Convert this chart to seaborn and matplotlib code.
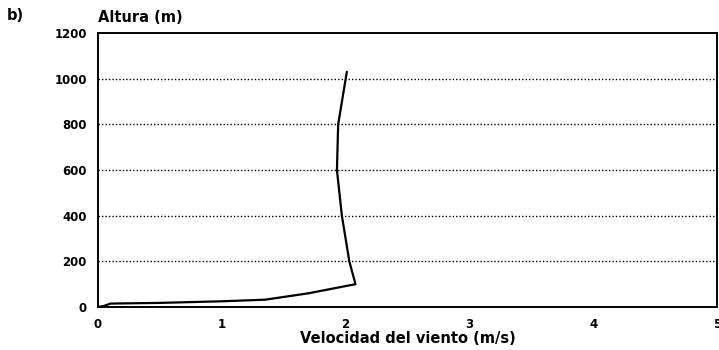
import matplotlib
matplotlib.use("Agg")
import matplotlib.pyplot as plt
import seaborn as sns
import pandas as pd

# Wind speed profile (m/s) against height (m)
velocidad = [0.00, 0.05, 0.10, 0.50, 1.00, 1.35, 1.70, 2.08, 2.03, 1.97, 1.93, 1.94, 2.01]
altura = [0, 5, 15, 18, 25, 32, 60, 100, 200, 400, 600, 800, 1030]

x_ticks = [0, 1, 2, 3, 4, 5]
y_ticks = [0, 200, 400, 600, 800, 1000, 1200]

df = pd.DataFrame({"velocidad": velocidad, "altura": altura})

sns.set_theme(style="white")
plt.rcParams["font.family"] = ["DejaVu Sans"]
plt.rcParams["text.color"] = "black"
plt.rcParams["axes.labelcolor"] = "black"

fig = plt.figure(figsize=(7.19, 3.5), dpi=100)
ax = fig.add_axes([98 / 719, 1 - 307 / 350, 619 / 719, 274 / 350])

sns.lineplot(data=df, x="velocidad", y="altura", sort=False, estimator=None,
             color="black", linewidth=1.6, ax=ax)

ax.set_xlim(0, 5)
ax.set_ylim(0, 1200)
ax.set_xticks(x_ticks)
ax.set_yticks(y_ticks)
ax.set_xticklabels([str(t) for t in x_ticks], fontsize=8.5, fontweight="bold")
ax.set_yticklabels([str(t) for t in y_ticks], fontsize=8.5, fontweight="bold")

for y in y_ticks[1:-1]:
    ax.axhline(y, color="black", linestyle=(0, (1, 1.5)), linewidth=1.0, zorder=0)

for side in ["left", "right", "top", "bottom"]:
    ax.spines[side].set_visible(True)
    ax.spines[side].set_color("black")
    ax.spines[side].set_linewidth(1.4)

ax.tick_params(axis="both", direction="in", length=4, width=1.2, colors="black",
               labelcolor="black", pad=8)
ax.tick_params(axis="x", pad=8)

ax.set_xlabel("Velocidad del viento (m/s)", fontsize=10.5, fontweight="bold",
              labelpad=0, color="black")
ax.set_ylabel("")

fig.text(98 / 719, 1 - 17 / 350, "Altura (m)", fontsize=10.5, fontweight="bold",
         ha="left", va="center", color="black")
fig.text(7 / 719, 1 - 15 / 350, "b)", fontsize=10.5, fontweight="bold",
         ha="left", va="center", color="black")

fig.savefig("out.png", dpi=100)
